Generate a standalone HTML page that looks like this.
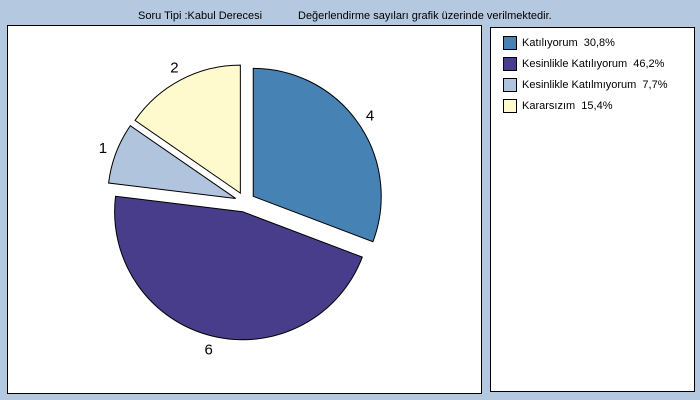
<!DOCTYPE html>
<html><head><meta charset="utf-8"><style>
body{margin:0;width:700px;height:400px;background:#b4c8e0;font-family:"Liberation Sans","DejaVu Sans",sans-serif;position:relative;overflow:hidden}
.t{position:absolute;top:10px;font-size:11px;color:#000}
#plot{position:absolute;left:7px;top:25px;width:473px;height:367px;background:#fff;border:1px solid #000}
#leg{position:absolute;left:490px;top:27px;width:203px;height:363px;background:#fff;border:1px solid #000}
.le{position:absolute;left:12px;font-size:11px;display:flex;align-items:center;white-space:nowrap}
.sw{width:12px;height:12px;border:1px solid #000;margin-right:5px}
</style></head><body>
<div class="t" style="left:138px">Soru Tipi :Kabul Derecesi</div>
<div class="t" style="left:298px">Değerlendirme sayıları grafik üzerinde verilmektedir.</div>
<div id="plot"></div>
<svg id="svg" width="700" height="400" style="position:absolute;left:0;top:0"></svg>
<div id="leg"></div>
<script>
const labels=["Katılıyorum","Kesinlikle Katılıyorum","Kesinlikle Katılmıyorum","Kararsızım"];
const values=[4,6,1,2];
const pcts=["30,8%","46,2%","7,7%","15,4%"];
const colors=["#4682b4","#483d8b","#b0c4de","#fffacd"];
const cx=245,cy=202,r=128,ex=10;
const svg=document.getElementById('svg');
const NS="http://www.w3.org/2000/svg";
const total=values.reduce((a,b)=>a+b,0);
let a0=0;
values.forEach((v,i)=>{
  const a1=a0+v/total*2*Math.PI, m=(a0+a1)/2;
  const ox=cx+ex*Math.sin(m), oy=cy-ex*Math.cos(m);
  const p=(a)=>[ox+r*Math.sin(a),oy-r*Math.cos(a)];
  const [x0,y0]=p(a0),[x1,y1]=p(a1);
  const path=document.createElementNS(NS,'path');
  path.setAttribute('d',`M${ox},${oy}L${x0},${y0}A${r},${r} 0 ${a1-a0>Math.PI?1:0} 1 ${x1},${y1}Z`);
  path.setAttribute('fill',colors[i]);path.setAttribute('stroke','#000');path.setAttribute('stroke-width','1');
  
  
  svg.appendChild(path);
  const t=document.createElementNS(NS,'text');
  t.setAttribute('x',cx+(r+24)*Math.sin(m));t.setAttribute('y',cy-(r+24)*Math.cos(m)+5);
  t.setAttribute('text-anchor','middle');t.setAttribute('font-size','15');t.setAttribute('font-family','Liberation Sans, sans-serif');
  t.textContent=v;
  
  
  svg.appendChild(t);
  a0=a1;
});
const leg=document.getElementById('leg');
labels.forEach((l,i)=>{
  const d=document.createElement('div');d.className='le';d.style.top=(8+i*21)+'px';
  
  
  d.innerHTML=`<span class="sw" style="background:${colors[i]}"></span>${l}&nbsp; ${pcts[i]}`;
  leg.appendChild(d);
});
</script>
</body></html>
